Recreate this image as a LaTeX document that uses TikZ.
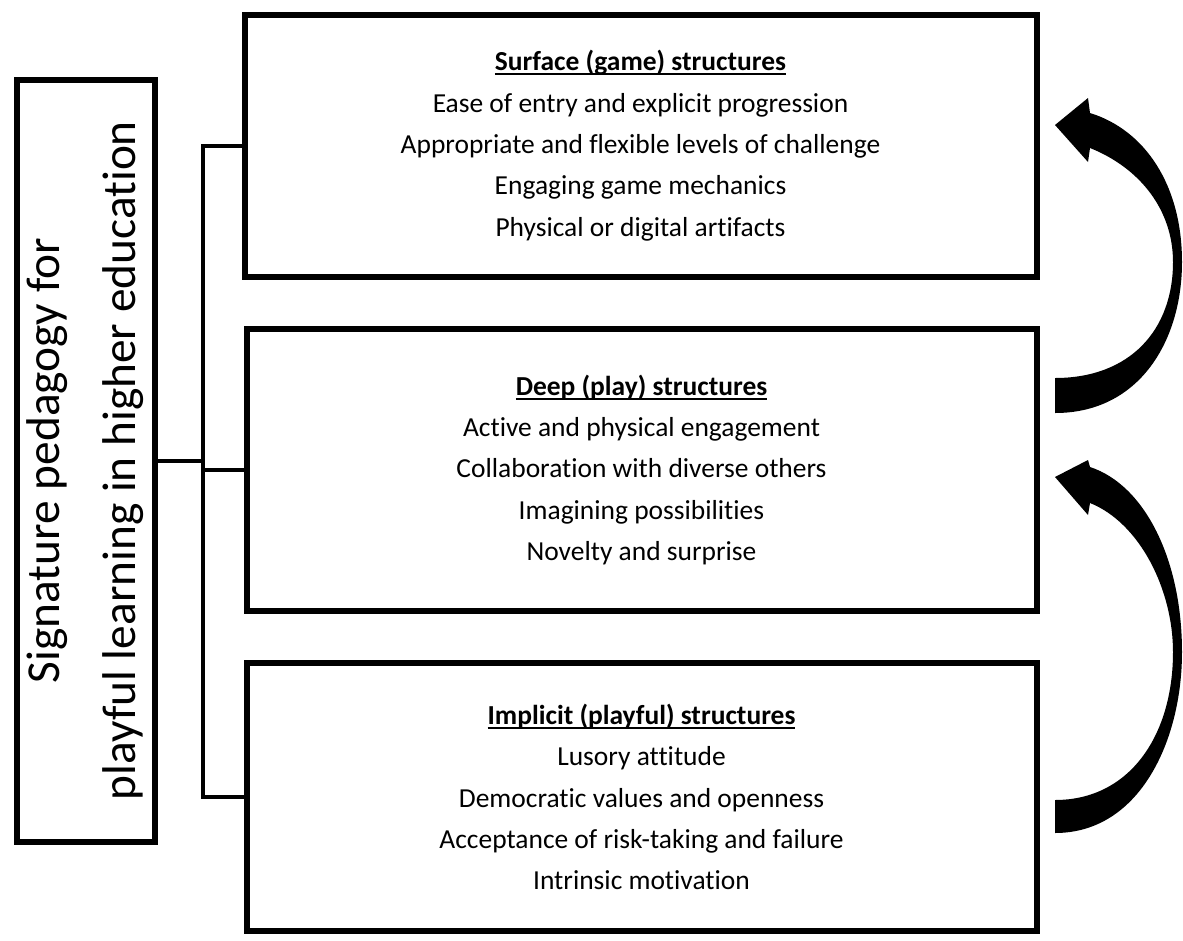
\documentclass[tikz,border=0pt]{standalone}
\usepackage{fontspec}
\setmainfont{Carlito}[Ligatures=NoCommon]
\newcommand{\ulhead}[1]{\setbox0=\hbox{\bfseries #1}\rlap{\rule[-3.2pt]{\wd0}{1.4pt}}\box0}
\begin{document}
\begin{tikzpicture}[x=0.75pt,y=-0.75pt,
  box/.style={draw, line width=4.5pt, align=center, font=\fontsize{20.6}{31}\selectfont},
  conn/.style={line width=3pt}]
\useasboundingbox (0,0) rectangle (1183,940);
% left title box
\node[draw, line width=4.5pt, minimum width=103.5pt, minimum height=571.5pt] (sig) at (85.5,460.5) {};
\node[rotate=90, align=center, font=\fontsize{35.5}{57}\selectfont] (sigtext) at (sig) {Signature pedagogy for\\playful learning in higher education};
% the three structures
\node[box, minimum width=594pt, minimum height=196.5pt] (surface) at (640.5,145.5) {\ulhead{Surface (game) structures}\\Ease of entry and explicit progression\\Appropriate and flexible levels of challenge\\Engaging game mechanics\\Physical or digital artifacts};
\node[box, minimum width=592.5pt, minimum height=212pt] (deep) at (641.5,470) {\ulhead{Deep (play) structures}\\Active and physical engagement\\Collaboration with diverse others\\Imagining possibilities\\Novelty and surprise};
\node[box, minimum width=592.5pt, minimum height=201pt] (implicit) at (641.5,797) {\ulhead{Implicit (playful) structures}\\Lusory attitude\\Democratic values and openness\\Acceptance of risk-taking and failure\\Intrinsic motivation};
% tree connectors
\draw[conn] (sig.east) -- ++(45.5,0) coordinate (fork);
\draw[conn] (surface.west) -| (fork) |- (implicit.west);
\draw[conn] (fork) |- (deep.west);
% curved arrows on the right
\fill (1055,413) .. controls (1140,413) and (1182,340) .. (1182,262)
  .. controls (1182,185) and (1145,130) .. (1090,113)
  -- (1088,98) -- (1055,125) -- (1088,162) -- (1090,148)
  .. controls (1140,168) and (1173,210) .. (1173,262)
  .. controls (1173,330) and (1130,378) .. (1055,378) -- cycle;
\fill (1055,833) .. controls (1140,833) and (1182,740) .. (1182,652)
  .. controls (1182,560) and (1145,485) .. (1090,467)
  -- (1088,460) -- (1055,477) -- (1088,515) -- (1090,503)
  .. controls (1140,523) and (1173,590) .. (1173,652)
  .. controls (1173,735) and (1130,800) .. (1055,800) -- cycle;
\end{tikzpicture}
\end{document}
